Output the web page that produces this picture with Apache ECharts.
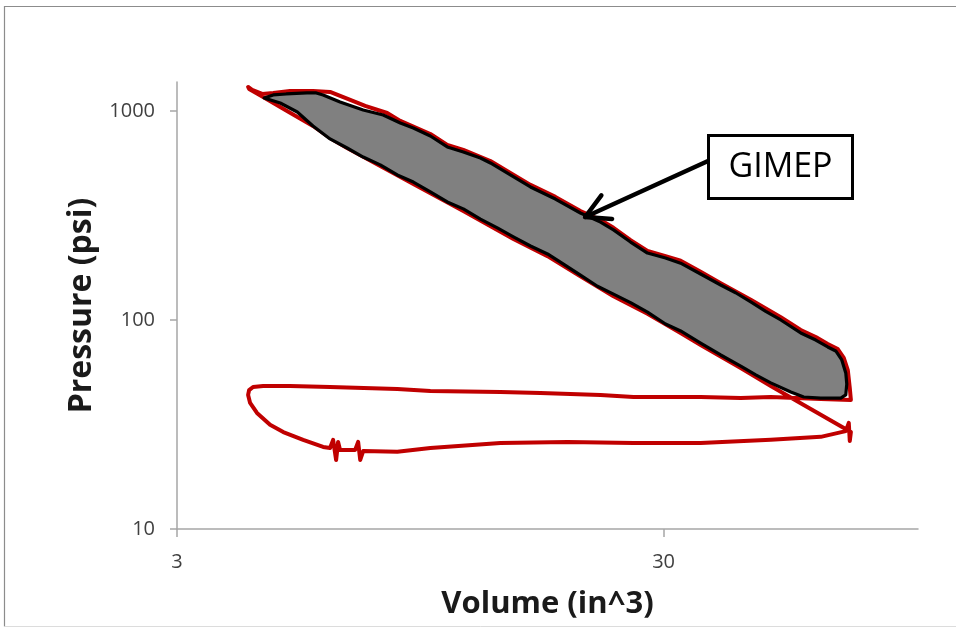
<!DOCTYPE html>
<html>
<head>
<meta charset="utf-8">
<script src="https://cdn.jsdelivr.net/npm/echarts@6/dist/echarts.min.js"></script>
<style>
  html, body { margin: 0; padding: 0; background: #ffffff; }
  #chart { width: 956px; height: 628px; }
</style>
</head>
<body>
<div id="chart"></div>
<script>
// Axis tick labels
const volumeTicks = [3, 30];
const pressureTicks = [10, 100, 1000];

// Intake stroke (in^3, psi), small to large volume
const intakeV = [4.20, 4.24, 4.38, 4.66, 4.96, 5.45, 5.99, 6.19, 6.28, 6.37, 6.43, 6.49, 6.97, 7.07, 7.14, 7.24, 8.51, 9.95, 13.86, 19.04, 26.02, 35.75, 49.82, 63.12, 71.05, 72.07, 72.41, 72.79];
const intakeP = [43.8, 40.1, 35.9, 31.5, 29.1, 26.7, 24.7, 24.4, 26.7, 21.4, 26.1, 23.9, 23.9, 26.1, 21.4, 23.6, 23.4, 24.4, 25.8, 26.1, 25.8, 25.8, 26.7, 27.6, 29.4, 32.2, 26.4, 29.1];

// Compression stroke, large to small volume
const compressionV = [72.79, 58.23, 49.82, 43.22, 35.75, 32.52, 27.80, 23.67, 20.24, 17.32, 14.74, 11.63, 9.18, 7.85, 6.71, 6.19, 5.71, 5.05, 4.51, 4.22, 4.20];
const compressionP = [29.1, 39.2, 48.3, 58.9, 75.9, 86.7, 107, 130, 162, 202, 244, 332, 447, 546, 665, 743, 848, 1000, 1167, 1274, 1303];

// Expansion stroke, small to large volume
const expansionV = [4.28, 4.49, 4.73, 5.12, 5.71, 6.19, 6.81, 7.31, 8.11, 8.63, 9.95, 10.78, 11.63, 13.22, 14.53, 15.98, 17.98, 20.24, 22.26, 23.67, 25.66, 27.80, 30.28, 32.52, 35.75, 39.31, 45.32, 52.24, 57.41, 61.64, 65.24, 68.41, 70.38, 71.73, 72.41, 72.79];
const expansionP = [1261, 1206, 1220, 1247, 1247, 1233, 1129, 1057, 978, 896, 776, 688, 651, 576, 505, 443, 388, 332, 301, 276, 241, 214, 202, 192, 170, 150, 125, 103, 89.6, 82.9, 76.8, 72.6, 65.8, 57.6, 47.3, 41.4];

// Exhaust stroke, large to small volume
const exhaustV = [63.12, 49.82, 43.22, 35.75, 26.02, 22.26, 16.75, 13.86, 9.95, 8.51, 6.19, 5.12, 4.51, 4.30, 4.22];
const exhaustP = [41.9, 42.8, 42.3, 42.8, 42.8, 43.8, 44.7, 45.2, 45.7, 46.8, 47.8, 48.3, 48.3, 47.8, 46.2];

// Gross work region enclosed by compression and expansion
const gimepV = [4.53, 4.73, 5.03, 5.55, 5.80, 5.99, 6.49, 7.24, 7.96, 8.63, 9.18, 9.95, 10.78, 11.63, 12.61, 13.22, 14.53, 15.98, 17.98, 20.24, 22.26, 23.67, 25.66, 27.80, 30.28, 32.52, 35.75, 39.31, 42.19, 45.32, 48.65, 52.24, 57.41, 61.64, 65.24, 67.76, 69.72, 71.05, 71.39, 71.05, 69.39, 63.12, 58.23, 54.77, 49.82, 46.40, 43.22, 39.31, 35.75, 32.52, 30.28, 27.80, 25.66, 23.67, 21.94, 20.24, 18.68, 17.32, 15.98, 14.74, 13.66, 12.61, 11.63, 10.78, 9.95, 9.18, 8.51, 7.85, 7.24, 6.71, 6.19, 5.71, 5.30, 4.89];
const gimepP = [1154, 1193, 1206, 1220, 1220, 1193, 1104, 1011, 957, 876, 829, 759, 673, 637, 596, 564, 494, 433, 379, 325, 294, 270, 236, 209, 198, 187, 166, 147, 135, 122, 110, 100, 86.7, 80.2, 74.3, 71.1, 64.4, 55.8, 49.4, 43.8, 42.3, 42.3, 42.8, 45.2, 50.0, 54.6, 60.2, 68.0, 77.6, 88.6, 95.7, 109, 121, 133, 145, 164, 185, 207, 226, 250, 276, 304, 340, 367, 410, 457, 494, 552, 602, 665, 735, 848, 989, 1092];

// Point on the expansion line that the label arrow points to
const arrowTip = [20.7, 311];

const zip = (xs, ys) => xs.map((x, i) => [x, ys[i]]);
const cycle = [].concat(
  zip(intakeV, intakeP),
  zip(compressionV, compressionP),
  zip(expansionV, expansionP),
  zip(exhaustV, exhaustP),
  [[intakeV[0], intakeP[0]]]
);
const gimepPts = zip(gimepV, gimepP);

const FONT = '"Open Sans", "Liberation Sans", sans-serif';
const axisGray = '#a6a6a6';

const chart = echarts.init(document.getElementById('chart'), null, { renderer: 'canvas' });

const option = {
  animation: false,
  backgroundColor: '#ffffff',
  grid: { left: 177, right: 38, top: 82, bottom: 99 },
  xAxis: {
    type: 'log',
    logBase: 10,
    min: 3,
    max: 100,
    name: 'Volume (in^3)',
    nameLocation: 'middle',
    nameGap: 60,
    nameTextStyle: { fontFamily: FONT, fontSize: 31, fontWeight: 'bold', color: '#1a1a1a' },
    axisLine: { show: true, lineStyle: { color: axisGray, width: 1.5 } },
    axisTick: { show: true, length: 8, lineStyle: { color: axisGray, width: 1.5 }, customValues: volumeTicks },
    axisLabel: { fontFamily: FONT, fontSize: 20, color: '#404040', margin: 23, customValues: volumeTicks, formatter: v => String(Math.round(v)) },
    splitLine: { show: false },
    minorTick: { show: false }
  },
  yAxis: {
    type: 'log',
    logBase: 10,
    min: 10,
    max: 1376,
    name: 'Pressure (psi)',
    nameLocation: 'middle',
    nameRotate: 90,
    nameGap: 78,
    nameTextStyle: { fontFamily: FONT, fontSize: 32, fontWeight: 'bold', color: '#1a1a1a' },
    axisLine: { show: true, lineStyle: { color: axisGray, width: 1.5 } },
    axisTick: { show: true, length: 7, lineStyle: { color: axisGray, width: 1.5 }, customValues: pressureTicks },
    axisLabel: { fontFamily: FONT, fontSize: 20, color: '#404040', margin: 22, customValues: pressureTicks, formatter: v => String(Math.round(v)) },
    splitLine: { show: false },
    minorTick: { show: false }
  },
  series: [
    {
      name: 'P-V cycle',
      type: 'line',
      data: cycle,
      showSymbol: false,
      smooth: false,
      clip: true,
      lineStyle: { color: '#c00000', width: 4, cap: 'round', join: 'round' },
      z: 2
    },
    {
      name: 'GIMEP',
      type: 'custom',
      coordinateSystem: 'cartesian2d',
      data: gimepPts,
      encode: { x: 0, y: 1 },
      renderItem: (params, api) => {
        if (params.dataIndex !== 0) return null;
        const pts = gimepPts.map(p => api.coord(p));
        return {
          type: 'polygon',
          shape: { points: pts },
          style: { fill: '#808080', stroke: '#000000', lineWidth: 3.2, lineJoin: 'round' }
        };
      },
      z: 3
    }
  ]
};

chart.setOption(option);

// Label box with an arrow to the gross work area
const tip = chart.convertToPixel({ gridIndex: 0 }, arrowTip);
const start = [708, 161];
const ang = Math.atan2(start[1] - tip[1], start[0] - tip[0]);
const arm = 27, spread = 0.5;
const armA = [tip[0] + arm * Math.cos(ang - spread), tip[1] + arm * Math.sin(ang - spread)];
const armB = [tip[0] + arm * Math.cos(ang + spread), tip[1] + arm * Math.sin(ang + spread)];

chart.setOption({
  graphic: [
    { type: 'polyline', silent: true, z: 10,
      shape: { points: [[4.5, 626.5], [4.5, 6.5], [960, 6.5]] },
      style: { stroke: '#8c8c8c', lineWidth: 1.2, fill: null } },
    { type: 'line', silent: true, z: 10,
      shape: { x1: 4.5, y1: 626.5, x2: 960, y2: 626.5 },
      style: { stroke: '#dcdcdc', lineWidth: 1 } },
    { type: 'line', silent: true, z: 20,
      shape: { x1: start[0], y1: start[1], x2: tip[0], y2: tip[1] },
      style: { stroke: '#000000', lineWidth: 4.5, lineCap: 'round' } },
    { type: 'polyline', silent: true, z: 20,
      shape: { points: [armA, tip, armB] },
      style: { stroke: '#000000', lineWidth: 4.5, lineCap: 'round', lineJoin: 'round', fill: null } },
    { type: 'rect', silent: true, z: 21,
      shape: { x: 708.5, y: 135.5, width: 144, height: 63 },
      style: { fill: '#ffffff', stroke: '#000000', lineWidth: 3 } },
    { type: 'text', silent: true, z: 22,
      x: 780.5, y: 167,
      style: { text: 'GIMEP', fontFamily: FONT, fontSize: 34, fill: '#000000', align: 'center', verticalAlign: 'middle' } }
  ]
});
</script>
</body>
</html>
